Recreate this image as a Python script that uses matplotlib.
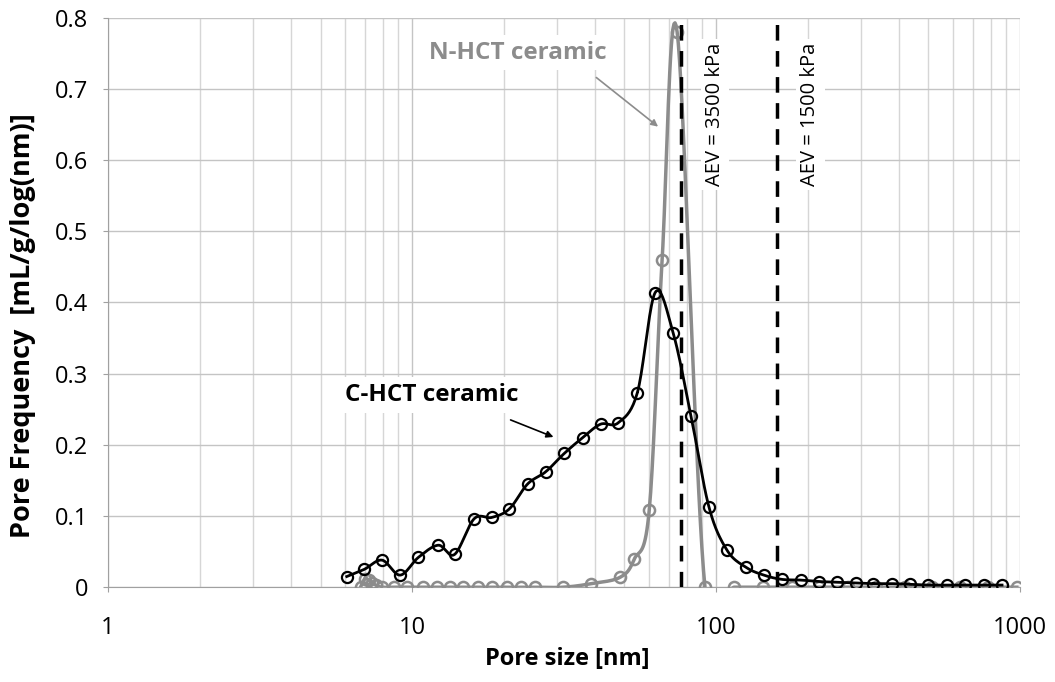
import numpy as np
import matplotlib
matplotlib.use("Agg")
import matplotlib.pyplot as plt

plt.rcParams['font.family'] = ['Open Sans', 'DejaVu Sans']

# C-HCT ceramic (black)
c_size = [6.1, 6.96, 7.97, 9.14, 10.5, 12.2, 13.8, 16.0, 18.3, 20.9, 24.0, 27.5, 31.7, 36.4,
          41.7, 47.7, 55.1, 63.1, 72.3, 82.8, 94.9, 108.7, 125.4, 143.6, 164.6, 190, 217.7,
          249.4, 287.7, 329.6, 380.5, 435.9, 499.5, 576.3, 660, 762, 873]
c_freq = [0.015, 0.025, 0.038, 0.017, 0.042, 0.059, 0.046, 0.096, 0.098, 0.11, 0.145, 0.162,
          0.188, 0.21, 0.229, 0.231, 0.273, 0.414, 0.357, 0.24, 0.112, 0.052, 0.028, 0.017,
          0.011, 0.01, 0.008, 0.007, 0.006, 0.005, 0.005, 0.004, 0.003, 0.003, 0.003, 0.003, 0.003]

# N-HCT ceramic (grey)
n_size = [6.77, 7.0, 7.2, 7.4, 7.6, 7.97, 8.73, 9.63, 10.9, 12.1, 13.3, 14.7, 16.5, 18.3, 20.5,
          22.9, 25.3, 31.5, 38.9, 48.4, 53.8, 60.3, 66.5, 74.5, 92.0, 114.6, 142.6, 177.5,
          219, 271, 335, 417, 514, 636, 785, 977]
n_freq = [0.0, 0.012, 0.01, 0.006, 0.003, 0.0, 0.0, 0.0, 0.0, 0.0, 0.0, 0.0, 0.0, 0.0, 0.0,
          0.0, 0.0, 0.0, 0.005, 0.014, 0.039, 0.108, 0.46, 0.78, 0.0, 0.0, 0.0, 0.0,
          0.0, 0.0, 0.0, 0.0, 0.0, 0.0, 0.0, 0.0]

aev_size = [76.8, 158.5]
aev_text = ['AEV = 3500 kPa', 'AEV = 1500 kPa']


def smooth(xs, ys, n=20):
    # excel-like smoothed line (catmull-rom in log-x space)
    lx = np.log10(xs)
    y = np.array(ys, dtype=float)
    px = np.concatenate([[lx[0]], lx, [lx[-1]]])
    py = np.concatenate([[y[0]], y, [y[-1]]])
    outx, outy = [], []
    t = np.linspace(0, 1, n)
    for i in range(1, len(px) - 2):
        for p, out in ((px, outx), (py, outy)):
            p0, p1, p2, p3 = p[i - 1], p[i], p[i + 1], p[i + 2]
            out.extend(0.5 * (2 * p1 + (-p0 + p2) * t + (2 * p0 - 5 * p1 + 4 * p2 - p3) * t ** 2
                              + (-p0 + 3 * p1 - 3 * p2 + p3) * t ** 3))
    return 10 ** np.array(outx), np.array(outy)


fig = plt.figure(figsize=(10.55, 6.82), dpi=100)
ax = fig.add_axes([0.1024, 0.139, 0.8644, 0.835])

ax.set_xscale('log')
ax.set_xlim(1, 1000)
ax.set_ylim(0, 0.8)

ax.grid(True, which='major', color='#c4c4c4', lw=1)
ax.grid(True, which='minor', axis='x', color='#d6d6d6', lw=1)
ax.set_axisbelow(True)

gx, gy = smooth(n_size, n_freq)
ax.plot(gx, gy, color='#8c8c8c', lw=2.5, zorder=3)
ax.plot(n_size, n_freq, 'o', mfc='none', mec='#8c8c8c', mew=1.8, ms=8, zorder=3)

bx, by = smooth(c_size, c_freq)
ax.plot(bx, by, color='black', lw=2, zorder=4)
ax.plot(c_size, c_freq, 'o', mfc='none', mec='black', mew=1.6, ms=8, zorder=4)

for xv, txt in zip(aev_size, aev_text):
    ax.axvline(xv, color='black', lw=2.5, ls=(0, (4.5, 3)), zorder=5)
    ax.text(xv * 1.29, 0.664, txt, rotation=90, ha='center', va='center', fontsize=14.5,
            bbox=dict(facecolor='white', edgecolor='none', pad=3), zorder=2)

# labels with arrows
ax.text(22.3, 0.751, 'N-HCT ceramic', color='#8c8c8c', fontsize=17.5, fontweight='bold',
        ha='center', va='center', bbox=dict(facecolor='white', edgecolor='none', pad=4), zorder=2)
ax.annotate('', xy=(64.5, 0.647), xytext=(40.4, 0.716),
            arrowprops=dict(arrowstyle='-|>', color='#8c8c8c', lw=1.2, shrinkA=0, shrinkB=0))
ax.text(11.6, 0.27, 'C-HCT ceramic', color='black', fontsize=17.5, fontweight='bold',
        ha='center', va='center', bbox=dict(facecolor='white', edgecolor='none', pad=4), zorder=2)
ax.annotate('', xy=(29.2, 0.211), xytext=(21.1, 0.235),
            arrowprops=dict(arrowstyle='-|>', color='black', lw=1.2, shrinkA=0, shrinkB=0))

ax.set_xticks([1, 10, 100, 1000])
ax.set_xticklabels(['1', '10', '100', '1000'])
ax.set_yticks(np.arange(0, 0.81, 0.1))
ax.set_yticklabels(['0'] + ['%.1f' % v for v in np.arange(0.1, 0.81, 0.1)])
ax.tick_params(axis='both', labelsize=17, color='#a0a0a0')
ax.tick_params(axis='x', which='minor', length=0)
ax.tick_params(axis='x', pad=17)
ax.tick_params(axis='y', pad=11)

for s in ['top', 'right']:
    ax.spines[s].set_visible(False)
for s in ['left', 'bottom']:
    ax.spines[s].set_color('#a0a0a0')

ax.set_xlabel('Pore size [nm]', fontsize=17, fontweight='bold')
ax.set_ylabel('Pore Frequency  [mL/g/log(nm)]', fontsize=19.5, fontweight='bold')
ax.xaxis.set_label_coords(0.504, -0.105)
ax.yaxis.set_label_coords(-0.079, 0.46)

fig.savefig('out.png', dpi=100)
